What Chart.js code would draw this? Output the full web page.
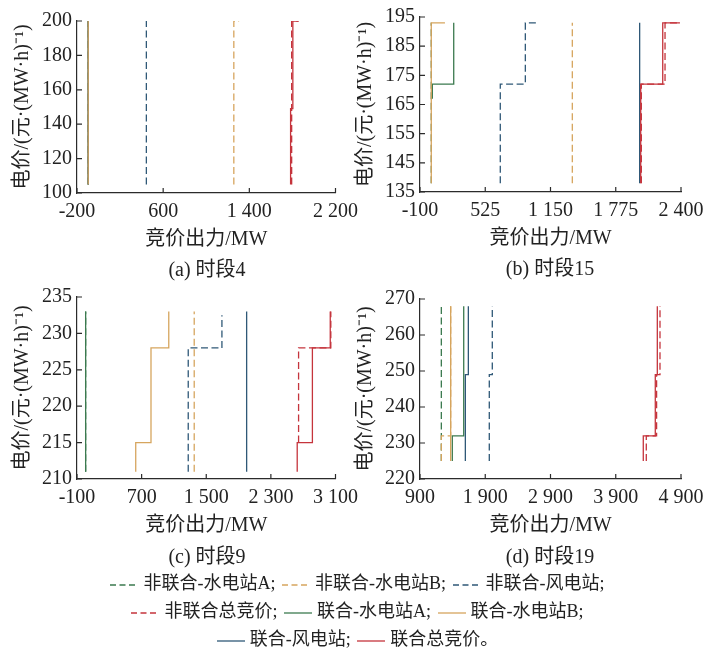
<!DOCTYPE html>
<html>
<head>
<meta charset="utf-8">
<script src="https://cdn.jsdelivr.net/npm/chart.js@4.4.0/dist/chart.umd.min.js"></script>
<style>
    body { margin: 0; background: #fff; width: 713px; height: 659px; position: relative; overflow: hidden;
           font-family: 'Liberation Serif', 'Noto Sans CJK SC', serif; color: #222; }
    canvas { position: absolute; }
    .cap { position: absolute; font-size: 20px; transform: translate(-50%, -50%); white-space: nowrap; }
    #legend { position: absolute; left: 0; top: 569px; width: 713px; text-align: center; font-size: 18px; line-height: 28px; }
    #legend svg { vertical-align: middle; margin: 0 5px 0 2px; }
</style>
</head>
<body>
<canvas id="p4"></canvas>
<canvas id="p15"></canvas>
<canvas id="p9"></canvas>
<canvas id="p19"></canvas>
<div class="cap" style="left:207px;top:267px">(a) 时段4</div>
<div class="cap" style="left:550px;top:266px">(b) 时段15</div>
<div class="cap" style="left:207px;top:554px">(c) 时段9</div>
<div class="cap" style="left:550px;top:554px">(d) 时段19</div>
<div id="legend"></div>

<script>
// series order: 非联合 A, B, 风, 总 ; 联合 A, B, 风, 总
const seriesNames = ['非联合-水电站A', '非联合-水电站B', '非联合-风电站', '非联合总竞价',
                     '联合-水电站A', '联合-水电站B', '联合-风电站', '联合总竞价'];
const seriesColors = ['#3b7a4f', '#d6a55e', '#2f5877', '#c5343c',
                      '#3b7a4f', '#d6a55e', '#2f5877', '#c5343c'];
const seriesDashed = [true, true, true, true, false, false, false, false];
const seriesOrder = [8, 6, 7, 2, 5, 3, 4, 1];   // lower = drawn on top

// 时段4  [出力 MW, 电价]
const t4_ncHydroA = [[-96, 105], [-96, 200]];
const t4_ncHydroB = [[1256, 105], [1256, 200], [1305, 200]];
const t4_ncWind   = [[444, 105], [444, 200]];
const t4_ncTotal  = [[1793, 105], [1793, 200], [1857, 200]];
const t4_cHydroA  = [[-96, 105], [-96, 200]];
const t4_cHydroB  = [[-96, 105], [-96, 200]];
const t4_cWind    = [[-96, 105], [-96, 200]];
const t4_cTotal   = [[1783, 105], [1783, 149], [1804, 149], [1804, 200], [1857, 200]];
const t4_xTicks = [-200, 600, 1400, 2200];
const t4_yTicks = [100, 120, 140, 160, 180, 200];

// 时段15
const t15_ncHydroA = [[8, 138], [8, 193]];
const t15_ncHydroB = [[1359, 138], [1359, 193]];
const t15_ncWind   = [[669, 138], [669, 172], [909, 172], [909, 193], [1043, 193]];
const t15_ncTotal  = [[2020, 138], [2020, 172], [2247, 172], [2247, 193], [2390, 193]];
const t15_cHydroA  = [[18, 167], [18, 172], [223, 172], [223, 193]];
const t15_cHydroB  = [[8, 138], [8, 193], [139, 193]];
const t15_cWind    = [[2004, 138], [2004, 193]];
const t15_cTotal   = [[2014, 138], [2014, 172], [2225, 172], [2225, 193], [2390, 193]];
const t15_xTicks = [-100, 525, 1150, 1775, 2400];
const t15_yTicks = [135, 145, 155, 165, 175, 185, 195];

// 时段9
const t9_ncHydroA = [[7, 211], [7, 233]];
const t9_ncHydroB = [[1351, 211], [1351, 233]];
const t9_ncWind   = [[1277, 211], [1277, 228], [1694, 228], [1694, 232.5]];
const t9_ncTotal  = [[2643, 215], [2643, 228], [3042, 228], [3042, 233]];
const t9_cHydroA  = [[7, 211], [7, 233]];
const t9_cHydroB  = [[627, 211], [627, 215], [816, 215], [816, 228], [1036, 228], [1036, 233]];
const t9_cWind    = [[2000, 211], [2000, 233]];
const t9_cTotal   = [[2626, 211], [2626, 215], [2814, 215], [2814, 228], [3035, 228], [3035, 233]];
const t9_xTicks = [-100, 700, 1500, 2300, 3100];
const t9_yTicks = [210, 215, 220, 225, 230, 235];

// 时段19
const t19_ncHydroA = [[1227, 225], [1227, 268]];
const t19_ncHydroB = [[1227, 225], [1227, 232], [1370, 232], [1370, 268]];
const t19_ncWind   = [[1962, 225], [1962, 249], [2008, 249], [2008, 268]];
const t19_ncTotal  = [[4368, 225], [4368, 232], [4526, 232], [4526, 249], [4578, 249], [4578, 268]];
const t19_cHydroA  = [[1395, 225], [1395, 232], [1570, 232], [1570, 268]];
const t19_cHydroB  = [[1370, 225], [1370, 268]];
const t19_cWind    = [[1595, 225], [1595, 249], [1641, 249], [1641, 268]];
const t19_cTotal   = [[4322, 225], [4322, 232], [4506, 232], [4506, 249], [4537, 249], [4537, 268]];
const t19_xTicks = [900, 1900, 2900, 3900, 4900];
const t19_yTicks = [220, 230, 240, 250, 260, 270];

const axisColor = '#2b2b2b';
const numFont = "'Liberation Serif', 'Noto Sans CJK SC', serif";

const fmt = v => (v < 0 ? '-' : '') + String(Math.abs(v)).replace(/\B(?=(\d{3})+(?!\d))/g, ' ');

// short tick marks pointing into the plot
const inwardTicks = {
    id: 'inwardTicks',
    afterDraw(chart) {
        const { ctx, chartArea: a, scales: { x, y } } = chart;
        ctx.save();
        ctx.strokeStyle = axisColor;
        ctx.lineWidth = 1.2;
        ctx.beginPath();
        x.ticks.forEach(t => {
            const px = x.getPixelForValue(t.value);
            ctx.moveTo(px, a.bottom);
            ctx.lineTo(px, a.bottom - 5);
        });
        y.ticks.forEach(t => {
            const py = y.getPixelForValue(t.value);
            ctx.moveTo(a.left, py);
            ctx.lineTo(a.left + 5, py);
        });
        ctx.stroke();
        ctx.restore();
    }
};

function drawPanel(id, box, xTicks, yTicks, series) {
    const cv = document.getElementById(id);
    cv.width = box.w;
    cv.height = box.h;
    cv.style.left = box.left + 'px';
    cv.style.top = box.top + 'px';

    const datasets = series.map((pts, i) => ({
        label: seriesNames[i],
        data: pts.map(p => ({ x: p[0], y: p[1] })),
        borderColor: seriesColors[i],
        borderWidth: 1.3,
        borderDash: seriesDashed[i] ? [7, 3.5] : [],
        showLine: true,
        pointRadius: 0,
        fill: false,
        tension: 0,
        order: seriesOrder[i]
    }));

    new Chart(cv, {
        type: 'scatter',
        data: { datasets },
        options: {
            responsive: false,
            animation: false,
            events: [],
            layout: { padding: { left: 0, top: box.padTop, right: box.padRight, bottom: 0 } },
            plugins: { legend: { display: false }, tooltip: { enabled: false } },
            scales: {
                x: {
                    type: 'linear',
                    min: xTicks[0],
                    max: xTicks[xTicks.length - 1],
                    afterBuildTicks: s => { s.ticks = xTicks.map(v => ({ value: v })); },
                    afterFit: s => { s.height = 62; },
                    grid: { display: false, drawTicks: false },
                    border: { display: true, color: axisColor, width: 1.2 },
                    ticks: { autoSkip: false, maxRotation: 0, padding: 7, color: '#222',
                             font: { family: numFont, size: 20 }, callback: v => fmt(v) },
                    title: { display: true, text: '竞价出力/MW', color: '#222',
                             font: { family: numFont, size: 20 }, padding: { top: 0, bottom: 3 } }
                },
                y: {
                    type: 'linear',
                    min: yTicks[0],
                    max: yTicks[yTicks.length - 1],
                    afterBuildTicks: s => { s.ticks = yTicks.map(v => ({ value: v })); },
                    afterFit: s => { s.width = box.yWidth; },
                    grid: { display: false, drawTicks: false },
                    border: { display: true, color: axisColor, width: 1.2 },
                    ticks: { autoSkip: false, padding: 5, color: '#222',
                             font: { family: numFont, size: 20 }, callback: v => fmt(v) },
                    title: { display: true, text: '电价/(元·(MW·h)⁻¹)', color: '#222',
                             font: { family: numFont, size: 20 }, padding: { top: box.titlePad, bottom: 0 } }
                }
            }
        },
        plugins: [inwardTicks]
    });
}

drawPanel('p4', { left: 0, top: 0, w: 365, h: 255, padTop: 21, padRight: 27, yWidth: 77, titlePad: 11 },
    t4_xTicks, t4_yTicks,
    [t4_ncHydroA, t4_ncHydroB, t4_ncWind, t4_ncTotal, t4_cHydroA, t4_cHydroB, t4_cWind, t4_cTotal]);
drawPanel('p15', { left: 345, top: 0, w: 368, h: 254, padTop: 14, padRight: 32, yWidth: 75, titlePad: 9 },
    t15_xTicks, t15_yTicks,
    [t15_ncHydroA, t15_ncHydroB, t15_ncWind, t15_ncTotal, t15_cHydroA, t15_cHydroB, t15_cWind, t15_cTotal]);
drawPanel('p9', { left: 0, top: 280, w: 365, h: 261, padTop: 16, padRight: 27, yWidth: 77, titlePad: 11 },
    t9_xTicks, t9_yTicks,
    [t9_ncHydroA, t9_ncHydroB, t9_ncWind, t9_ncTotal, t9_cHydroA, t9_cHydroB, t9_cWind, t9_cTotal]);
drawPanel('p19', { left: 345, top: 280, w: 368, h: 261, padTop: 19, padRight: 32, yWidth: 75, titlePad: 9 },
    t19_xTicks, t19_yTicks,
    [t19_ncHydroA, t19_ncHydroB, t19_ncWind, t19_ncTotal, t19_cHydroA, t19_cHydroB, t19_cWind, t19_cTotal]);

// legend in three rows, built from the series lists
const legendRows = [[0, 1, 2], [3, 4, 5], [6, 7]];
const legend = document.getElementById('legend');
legendRows.forEach((row, r) => {
    const line = document.createElement('div');
    line.innerHTML = row.map(i => {
        const dash = seriesDashed[i] ? 'stroke-dasharray="6 3.5"' : '';
        const end = (r === legendRows.length - 1 && i === row[row.length - 1]) ? '。' : ';';
        return '<svg width="28" height="10"><line x1="0" y1="5" x2="28" y2="5" stroke="' + seriesColors[i] +
            '" stroke-width="1.3" ' + dash + '/></svg>' + seriesNames[i] + end;
    }).join(' ');
    legend.appendChild(line);
});
</script>
</body>
</html>
